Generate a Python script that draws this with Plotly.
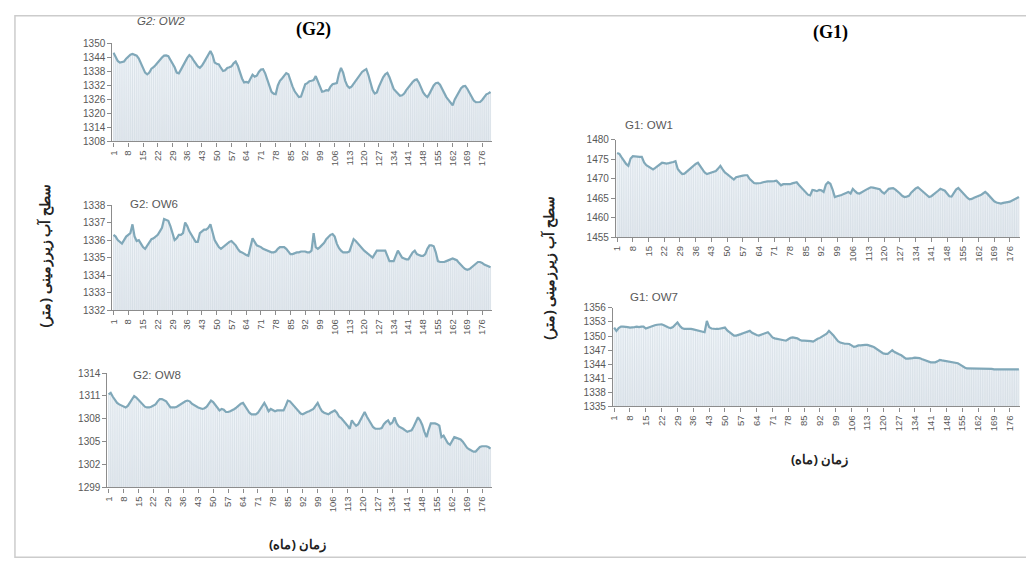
import plotly.graph_objects as go

months = list(range(1, 181))
tick_months = list(range(1, 181, 7))

ow2 = [1346.0,1344.5,1342.5,1341.8,1342.0,1342.3,1343.5,1344.5,1345.2,1345.5,
       1345.3,1344.8,1343.5,1341.5,1339.0,1337.5,1336.8,1337.5,1339.2,1339.8,
       1340.8,1342.0,1343.0,1344.0,1344.8,1344.9,1344.6,1343.2,1341.5,1339.8,
       1337.5,1337.2,1338.8,1340.5,1342.3,1343.8,1345.0,1344.2,1342.8,1341.5,
       1340.2,1339.6,1340.5,1342.0,1343.8,1345.5,1346.8,1345.0,1341.8,1341.3,
       1341.0,1339.5,1338.2,1338.5,1339.5,1339.8,1340.2,1341.5,1342.3,1340.5,
       1337.5,1335.0,1333.3,1333.5,1333.2,1335.0,1336.6,1335.8,1336.2,1337.8,
       1338.8,1339.0,1337.2,1334.5,1331.5,1329.3,1328.5,1328.3,1332.0,1334.0,
       1335.0,1336.2,1337.3,1336.8,1334.0,1331.5,1329.5,1328.0,1327.0,1327.2,
       1330.0,1332.5,1333.0,1333.8,1334.0,1334.3,1336.0,1333.5,1331.0,1329.3,
       1329.5,1330.0,1329.8,1331.5,1332.5,1332.6,1333.0,1337.0,1339.5,1337.5,
       1334.0,1331.8,1331.0,1331.5,1332.8,1334.0,1335.3,1336.5,1337.8,1338.5,
       1339.0,1336.5,1333.0,1330.0,1328.5,1329.0,1331.5,1333.8,1335.5,1336.8,
       1337.4,1335.5,1332.5,1330.5,1329.5,1328.3,1327.6,1327.8,1328.5,1330.0,
       1331.2,1332.5,1333.5,1334.3,1334.6,1333.2,1331.0,1329.0,1327.8,1327.0,
       1328.5,1330.5,1332.0,1333.0,1333.2,1332.3,1330.5,1328.8,1327.0,1325.8,
       1324.5,1323.5,1326.0,1327.8,1329.5,1330.8,1331.6,1331.8,1330.5,1328.8,
       1327.0,1325.5,1324.8,1325.0,1324.9,1325.8,1327.3,1328.2,1328.6,1329.2]

ow6 = [1336.3,1336.2,1336.0,1335.9,1335.8,1336.0,1336.2,1336.3,1336.4,1336.9,
       1336.2,1335.95,1336.0,1335.8,1335.6,1335.5,1335.7,1335.9,1336.05,1336.1,
       1336.2,1336.3,1336.5,1336.7,1337.2,1337.15,1337.1,1336.8,1336.4,1336.0,
       1336.1,1336.3,1336.3,1336.4,1337.0,1336.8,1336.5,1336.3,1336.1,1335.9,
       1335.9,1336.4,1336.5,1336.6,1336.6,1336.7,1336.9,1336.5,1336.0,1335.8,
       1335.6,1335.5,1335.6,1335.7,1335.85,1335.9,1335.95,1335.85,1335.7,1335.5,
       1335.35,1335.3,1335.2,1335.15,1335.1,1335.7,1336.1,1335.9,1335.7,1335.65,
       1335.6,1335.5,1335.45,1335.4,1335.35,1335.3,1335.3,1335.35,1335.5,1335.6,
       1335.6,1335.6,1335.5,1335.35,1335.2,1335.2,1335.25,1335.3,1335.3,1335.35,
       1335.35,1335.35,1335.3,1335.3,1335.4,1336.4,1335.6,1335.5,1335.6,1335.7,
       1335.85,1336.05,1336.2,1336.3,1336.35,1336.2,1335.8,1335.55,1335.4,1335.3,
       1335.3,1335.3,1335.35,1335.7,1336.05,1335.95,1335.8,1335.7,1335.55,1335.4,
       1335.3,1335.2,1335.1,1335.0,1335.2,1335.4,1335.4,1335.4,1335.4,1335.4,
       1335.1,1334.8,1334.8,1334.8,1335.1,1335.4,1335.2,1335.0,1334.95,1334.9,
       1334.9,1335.1,1335.3,1335.4,1335.2,1335.15,1335.1,1335.1,1335.2,1335.5,
       1335.7,1335.7,1335.65,1335.3,1334.8,1334.75,1334.75,1334.75,1334.8,1334.85,
       1334.9,1334.95,1334.9,1334.85,1334.7,1334.55,1334.45,1334.35,1334.3,1334.35,
       1334.45,1334.55,1334.65,1334.75,1334.75,1334.7,1334.6,1334.55,1334.5,1334.45]

ow8 = [1311.2,1311.4,1310.9,1310.4,1310.1,1309.9,1309.8,1309.6,1309.5,1309.7,
       1310.1,1310.6,1311.0,1310.8,1310.5,1310.1,1309.9,1309.6,1309.5,1309.5,
       1309.6,1309.7,1309.9,1310.3,1310.6,1310.6,1310.5,1310.3,1309.9,1309.5,
       1309.5,1309.5,1309.6,1309.8,1310.0,1310.2,1310.3,1310.4,1310.3,1310.0,
       1309.8,1309.7,1309.5,1309.4,1309.3,1309.4,1309.6,1310.0,1310.4,1310.2,
       1309.8,1309.4,1309.1,1309.3,1309.2,1308.9,1308.9,1309.0,1309.1,1309.3,
       1309.5,1309.8,1310.0,1310.1,1309.7,1309.3,1308.8,1308.6,1308.6,1308.6,
       1308.8,1309.2,1309.7,1310.1,1309.6,1309.0,1309.3,1309.2,1309.0,1309.1,
       1309.1,1309.1,1309.1,1309.7,1310.4,1310.3,1310.0,1309.7,1309.3,1309.0,
       1308.7,1308.6,1308.8,1308.9,1309.0,1309.1,1309.3,1309.7,1310.1,1309.5,
       1309.0,1308.8,1308.7,1308.6,1308.8,1309.0,1309.1,1308.8,1308.3,1308.1,
       1307.8,1307.5,1307.1,1306.7,1307.8,1307.4,1307.1,1307.3,1307.9,1308.5,
       1308.9,1308.3,1307.8,1307.2,1306.9,1306.7,1306.7,1306.7,1306.8,1307.3,
       1307.6,1307.8,1307.3,1307.5,1308.2,1307.4,1307.0,1306.9,1306.7,1306.5,
       1306.3,1306.4,1306.5,1307.0,1307.7,1308.2,1307.8,1307.2,1306.3,1305.6,
       1306.6,1307.4,1307.4,1307.4,1307.3,1307.1,1305.6,1305.8,1305.3,1304.8,
       1304.6,1305.2,1305.6,1305.5,1305.4,1305.3,1305.0,1304.6,1304.2,1304.0,
       1303.8,1303.7,1303.7,1304.0,1304.3,1304.4,1304.4,1304.4,1304.3,1304.1]

ow1 = [1476.6,1476.4,1475.5,1474.6,1473.8,1473.3,1475.2,1475.8,1475.7,1475.6,
       1475.6,1475.6,1474.2,1473.5,1473.1,1472.8,1472.4,1472.8,1473.2,1473.6,
       1474.1,1474.0,1473.9,1474.0,1474.1,1474.3,1474.5,1472.5,1471.8,1471.2,
       1471.3,1471.8,1472.4,1472.9,1473.4,1473.8,1474.1,1473.2,1472.4,1471.6,
       1471.2,1471.4,1471.6,1471.8,1472.0,1472.6,1473.3,1472.4,1471.6,1471.2,
       1470.8,1470.3,1469.8,1470.4,1470.6,1470.7,1470.8,1470.9,1470.9,1470.0,
       1469.4,1468.9,1468.8,1468.8,1468.9,1469.1,1469.3,1469.3,1469.3,1469.3,
       1469.4,1469.5,1469.0,1468.3,1468.6,1468.6,1468.5,1468.6,1468.8,1469.0,
       1469.1,1468.4,1467.8,1467.2,1466.6,1465.9,1465.7,1467.1,1467.0,1466.8,
       1467.1,1467.0,1466.6,1468.5,1469.1,1468.7,1467.2,1465.3,1465.5,1465.6,
       1465.8,1466.1,1466.4,1466.6,1466.2,1467.4,1466.8,1466.3,1466.2,1466.6,
       1467.0,1467.2,1467.5,1467.8,1467.7,1467.6,1467.5,1467.3,1466.6,1466.2,
       1466.8,1467.4,1467.5,1467.6,1467.2,1466.8,1466.2,1465.6,1465.3,1465.4,
       1465.6,1466.4,1467.1,1467.5,1467.8,1467.3,1466.8,1466.3,1465.8,1465.3,
       1465.5,1465.9,1466.4,1466.9,1467.4,1467.2,1466.9,1466.2,1465.5,1465.4,
       1466.5,1467.2,1467.6,1467.0,1466.3,1465.6,1465.1,1464.7,1464.8,1465.1,
       1465.3,1465.5,1465.8,1466.2,1466.6,1466.1,1465.4,1464.8,1464.2,1463.9,
       1463.7,1463.6,1463.8,1464.0,1464.0,1464.1,1464.4,1464.8,1465.1,1465.3]

ow7 = [1351.8,1351.1,1351.7,1352.0,1352.0,1352.0,1351.9,1351.8,1351.8,1351.9,
       1352.0,1351.9,1352.0,1352.0,1351.6,1351.8,1352.0,1352.2,1352.3,1352.4,
       1352.5,1352.5,1352.3,1352.0,1351.8,1351.7,1351.9,1352.4,1352.9,1352.2,
       1351.7,1351.5,1351.5,1351.6,1351.5,1351.4,1351.3,1351.1,1351.0,1350.9,
       1350.8,1353.2,1351.9,1351.6,1351.5,1351.5,1351.5,1351.6,1351.7,1351.8,
       1351.2,1350.8,1350.4,1350.1,1350.1,1350.2,1350.4,1350.6,1350.8,1351.0,
       1351.1,1350.7,1350.4,1350.2,1350.1,1350.3,1350.4,1350.6,1350.8,1350.3,
       1349.7,1349.5,1349.4,1349.3,1349.2,1349.0,1349.0,1349.3,1349.6,1349.7,
       1349.6,1349.5,1349.2,1349.0,1349.0,1349.0,1349.0,1348.9,1348.8,1349.2,
       1349.4,1349.6,1349.9,1350.1,1350.5,1351.1,1350.7,1350.1,1349.5,1348.9,
       1348.6,1348.4,1348.35,1348.35,1348.3,1348.0,1347.7,1347.8,1348.0,1348.0,
       1348.1,1348.1,1348.1,1348.0,1347.8,1347.6,1347.3,1347.0,1346.6,1346.3,
       1346.2,1346.2,1346.6,1347.0,1346.6,1346.3,1346.1,1345.9,1345.5,1345.2,
       1345.2,1345.2,1345.3,1345.4,1345.4,1345.3,1345.1,1344.9,1344.7,1344.5,
       1344.4,1344.4,1344.4,1344.6,1344.9,1344.8,1344.7,1344.7,1344.6,1344.5,
       1344.4,1344.3,1344.2,1343.9,1343.5,1343.3,1343.1,1343.1,1343.0,1343.1,
       1343.0,1343.0,1343.0,1343.0,1343.0,1343.0,1343.0,1343.0,1342.9,1342.9,
       1342.9,1342.9,1342.9,1342.9,1342.9,1342.9,1342.9,1342.9,1342.9,1342.9]

W, H = 1026, 573
panels = [
    # name, data, ymin, ymax, dtick, x0px, x1px, ytop_px, ybot_px
    ("G2: OW2", ow2, 1308, 1350, 6, 108, 489, 38.3, 138.3),
    ("G2: OW6", ow6, 1332, 1338, 1, 108, 489, 203.3, 310.7),
    ("G2: OW8", ow8, 1299, 1314, 3, 103, 489, 375, 491.7),
    ("G1: OW1", ow1, 1455, 1480, 5, 614, 1020, 136.7, 236),
    ("G1: OW7", ow7, 1335, 1356, 3, 611, 1020, 308.3, 409),
]
title_pos = [(157, 15), (150, 202), (153, 377), (647, 122), (652, 297)]
title_italic = [True, False, False, False, False]

LINE = "#80a8b9"
AXC = "#8c8c8c"
TXT = "#595959"

def ann(text, x, y, size, color, family, angle=0):
    return dict(text=text, x=x / W, y=1 - y / H, xref="paper", yref="paper",
                xanchor="center", yanchor="middle", showarrow=False, textangle=angle,
                font=dict(size=size, color=color, family=family))

fig = go.Figure()
layout = {}
for i, (name, vals, ymin, ymax, dt, x0, x1, yt, yb) in enumerate(panels):
    k = "" if i == 0 else str(i + 1)
    xa, ya = "x" + k, "y" + k
    dx, dy = [], []
    for m, v in zip(months, vals):
        dx += [m, m, None]
        dy += [ymin, v, None]
    fig.add_trace(go.Scatter(x=[months[0], months[-1]], y=[ymin, ymin], mode="lines",
                             line=dict(width=0), xaxis=xa, yaxis=ya, showlegend=False,
                             hoverinfo="skip"))
    fig.add_trace(go.Scatter(x=months, y=vals, mode="lines", fill="tonexty",
                             fillgradient=dict(type="vertical",
                                               colorscale=[[0, "#e3e9ef"], [1, "#f2f7fb"]]),
                             line=dict(width=0), xaxis=xa, yaxis=ya, showlegend=False,
                             hoverinfo="skip"))
    fig.add_trace(go.Scatter(x=dx, y=dy, mode="lines", line=dict(color="#d3dbe3", width=0.7),
                             xaxis=xa, yaxis=ya, showlegend=False, hoverinfo="skip"))
    fig.add_trace(go.Scatter(x=months, y=vals, mode="lines",
                             line=dict(color=LINE, width=2.2), xaxis=xa, yaxis=ya,
                             showlegend=False))
    layout["xaxis" + k] = dict(
        domain=[x0 / W, x1 / W], anchor=ya, range=[0.5, 180.5],
        tickmode="array", tickvals=tick_months, ticktext=[str(t) for t in tick_months],
        tickangle=-90, tickfont=dict(size=9.5, color=TXT, family="Liberation Sans"),
        showline=True, linecolor=AXC, linewidth=1.3, ticks="outside", ticklen=4,
        tickcolor=AXC, showgrid=False, zeroline=False)
    layout["yaxis" + k] = dict(
        domain=[1 - yb / H, 1 - yt / H], anchor=xa, range=[ymin, ymax],
        tick0=ymin, dtick=dt, tickfont=dict(size=10, color=TXT, family="Liberation Sans"),
        showline=True, linecolor=AXC, linewidth=1.3, ticks="outside", ticklen=4,
        tickcolor=AXC, showgrid=False, zeroline=False)

annotations = []
for (name, *_), (tx, ty), it in zip(panels, title_pos, title_italic):
    annotations.append(ann(f"<i>{name}</i>" if it else name, tx, ty, 11.5, TXT, "Liberation Sans"))
annotations += [
    ann("<b>(G2)</b>", 310, 24, 18, "#000", "Liberation Serif"),
    ann("<b>(G1)</b>", 830, 27, 18, "#000", "Liberation Serif"),
    ann("<b>سطح آب زیرزمینی (متر)</b>", 40, 255, 14, "#222", "Noto Sans", -90),
    ann("<b>سطح آب زیرزمینی (متر)</b>", 546, 268, 14, "#222", "Noto Sans", -90),
    ann("<b>زمان (ماه)</b>", 294, 549, 13, "#222", "Noto Sans"),
    ann("<b>زمان (ماه)</b>", 818, 463, 13, "#222", "Noto Sans"),
]

fig.update_layout(
    width=W, height=H, margin=dict(l=0, r=0, t=0, b=0),
    paper_bgcolor="white", plot_bgcolor="rgba(0,0,0,0)",
    annotations=annotations, showlegend=False,
    shapes=[dict(type="rect", xref="paper", yref="paper", x0=10 / W, x1=1.02,
                 y0=1 - 563 / H, y1=1 - 10 / H, line=dict(color="#cccccc", width=1.5))],
    **layout)

fig.write_html("out.html")
